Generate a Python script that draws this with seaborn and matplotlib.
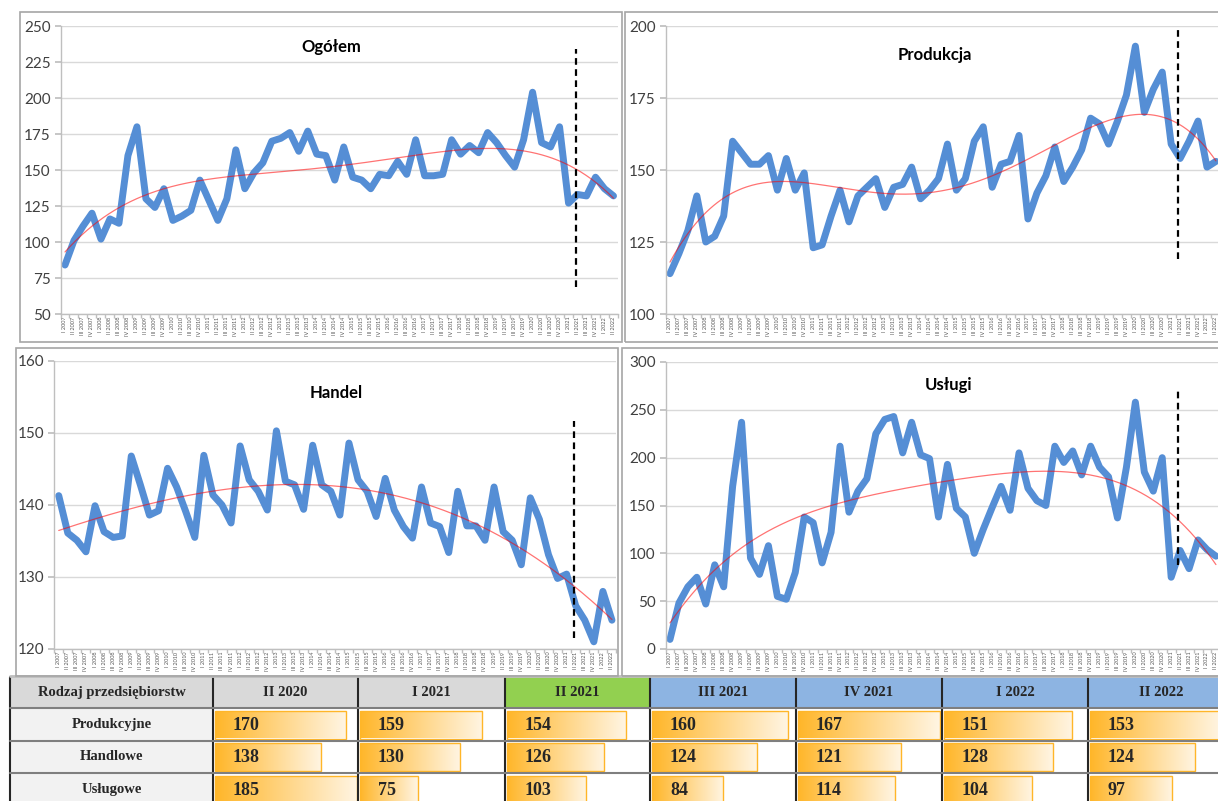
import numpy as np
import matplotlib
matplotlib.use('Agg')
import matplotlib.pyplot as plt
import seaborn as sns
from matplotlib.patches import Rectangle
from matplotlib.colors import LinearSegmentedColormap

# Dane kwartalne: I 2007 - II 2022
kwartaly = ['I', 'II', 'III', 'IV']
lata = list(range(2007, 2023))
etykiety = [f'{q} {r}' for r in lata for q in kwartaly][:62]

ogolem = [84, 101, 111, 120, 102, 116, 113, 160, 180, 130, 124, 137, 115, 118, 122, 143,
          129, 115, 130, 164, 137, 148, 155, 170, 172, 176, 163, 177, 161, 160, 143, 166,
          145, 143, 137, 147, 146, 156, 147, 171, 146, 146, 147, 171, 161, 167, 162, 176,
          169, 160, 152, 171, 204, 169, 166, 180, 127, 133, 132, 145, 137, 132]
produkcja = [114, 121, 129, 141, 125, 127, 134, 160, 156, 152, 152, 155, 143, 154, 143, 149,
             123, 124, 134, 143, 132, 141, 144, 147, 137, 144, 145, 151, 140, 143, 147, 159,
             143, 147, 160, 165, 144, 152, 153, 162, 133, 142, 148, 158, 146, 151, 157, 168,
             166, 159, 167, 176, 193, 170, 178, 184, 159, 154, 160, 167, 151, 153]
handel = [141.3, 136.1, 135.1, 133.5, 139.9, 136.3, 135.5, 135.7, 146.8, 142.8, 138.6, 139.2,
          145.1, 142.5, 139.1, 135.5, 146.9, 141.4, 140.0, 137.5, 148.2, 143.5, 141.9, 139.3,
          150.3, 143.3, 142.8, 139.4, 148.3, 142.8, 141.9, 138.6, 148.6, 143.5, 141.9, 138.4,
          143.7, 139.3, 137.0, 135.4, 142.5, 137.5, 137.0, 133.4, 141.9, 137.1, 137.1, 135.1,
          142.5, 136.3, 135.1, 131.7, 141.0, 138.0, 133.1, 129.8, 130.4, 126.0, 124.0, 121.0,
          128.0, 124.0]
uslugi = [10, 48, 65, 75, 47, 88, 65, 170, 237, 95, 78, 108, 55, 52, 80, 138,
          132, 90, 122, 212, 143, 165, 178, 225, 240, 243, 205, 237, 203, 199, 138, 193,
          147, 138, 100, 125, 148, 170, 145, 205, 168, 155, 150, 212, 195, 207, 182, 212,
          190, 180, 137, 190, 258, 185, 165, 200, 75, 103, 84, 114, 104, 97]

# Tabela
tab_kolumny = ['II 2020', 'I 2021', 'II 2021', 'III 2021', 'IV 2021', 'I 2022', 'II 2022']
tab_wiersze = ['Produkcyjne', 'Handlowe', 'Usługowe']
tab_prod = [170, 159, 154, 160, 167, 151, 153]
tab_hand = [138, 130, 126, 124, 121, 128, 124]
tab_usl = [185, 75, 103, 84, 114, 104, 97]

sns.set_theme(style='white')
plt.rcParams['font.family'] = ['Lato', 'DejaVu Sans']

W, H = 1218, 801
fig = plt.figure(figsize=(W / 100, H / 100), dpi=100)


def box(x0, y0, x1, y1):
    return [x0 / W, 1 - y1 / H, (x1 - x0) / W, (y1 - y0) / H]


def ramka(x0, y0, x1, y1):
    fig.add_artist(Rectangle((x0 / W, 1 - y1 / H), (x1 - x0) / W, (y1 - y0) / H,
                             transform=fig.transFigure, fill=False, ec='#a6a6a6', lw=1.2))


def wykres(pos, dane, tytul, tpos, yticks, stopien, kreska):
    ax = fig.add_axes(box(*pos))
    x = np.arange(len(dane))
    sns.lineplot(x=x, y=dane, ax=ax, color='#558ed5', linewidth=5,
                 solid_joinstyle='round', solid_capstyle='round')
    # linia trendu (wielomianowa)
    xf = np.linspace(0, len(dane) - 1, 300)
    wsp = np.polyfit(x / 61, dane, stopien)
    sns.lineplot(x=xf, y=np.polyval(wsp, xf / 61), ax=ax, color='#ff0000', alpha=0.55, linewidth=0.9)
    ax.vlines(56.8, kreska[0], kreska[1], colors='black', linestyles=(0, (3, 2)), linewidth=1.6)
    ax.set_xlim(-0.5, 61.5)
    ax.set_ylim(yticks[0], yticks[-1])
    ax.set_yticks(yticks)
    ax.set_xticks(x)
    ax.set_xticklabels(etykiety, rotation=90, fontsize=4, color='#595959')
    ax.set_xticks(np.arange(-0.5, 62, 1), minor=True)
    ax.tick_params(axis='x', which='major', length=0, pad=2)
    ax.tick_params(axis='x', which='minor', length=3, color='#bfbfbf', bottom=True)
    ax.tick_params(axis='y', length=4, color='#bfbfbf', labelsize=11, labelcolor='#404040',
                   left=True, pad=3)
    ax.grid(axis='y', color='#d9d9d9', linewidth=1)
    ax.set_axisbelow(True)
    for s in ['top', 'right']:
        ax.spines[s].set_visible(False)
    for s in ['left', 'bottom']:
        ax.spines[s].set_color('#bfbfbf')
        ax.spines[s].set_linewidth(1)
    ax.text(tpos[0], tpos[1], tytul, transform=ax.transAxes, ha='center', va='center',
            fontsize=12, fontweight='bold', color='black')
    ax.set_xlabel('')
    ax.set_ylabel('')
    return ax


ramka(20, 12, 622, 342)
ramka(625, 12, 1230, 342)
ramka(16, 348, 618, 676)
ramka(622, 348, 1230, 676)

wykres((60.5, 26, 618, 314), ogolem, 'Ogółem', (0.486, 0.928), [50, 75, 100, 125, 150, 175, 200, 225, 250], 4, (69, 234))
wykres((665.5, 26, 1220.4, 314), produkcja, 'Produkcja', (0.486, 0.90), [100, 125, 150, 175, 200], 4, (119, 200))
wykres((54.2, 361, 616.5, 649), handel, 'Handel', (0.502, 0.89), [120, 130, 140, 150, 160], 3, (121.5, 151.7))
wykres((665.5, 362, 1220.4, 649), uslugi, 'Usługi', (0.51, 0.92), [0, 50, 100, 150, 200, 250, 300], 4, (88, 271))

# --- tabela ---
axt = fig.add_axes([0, 0, 1, 126 / H])
kol = [10, 213, 358, 505, 650, 796, 942, 1088, 1234]
wier = [2, 33, 66, 98, 131]
naglowek_tlo = ['#d9d9d9', '#d9d9d9', '#d9d9d9', '#92d050', '#8db4e2', '#8db4e2', '#8db4e2', '#8db4e2']
serif = ['Liberation Serif', 'DejaVu Serif']

for j in range(8):
    axt.add_patch(Rectangle((kol[j], wier[0]), kol[j + 1] - kol[j], wier[1] - wier[0],
                            fc=naglowek_tlo[j], ec='none', zorder=0))
for i in range(3):
    axt.add_patch(Rectangle((kol[0], wier[i + 1]), kol[1] - kol[0], wier[i + 2] - wier[i + 1],
                            fc='#f2f2f2', ec='none', zorder=0))

axt.text((kol[0] + kol[1]) / 2, (wier[0] + wier[1]) / 2, 'Rodzaj przedsiębiorstw', ha='center',
         va='center', fontsize=10.5, fontweight='bold', family=serif)
for j, k in enumerate(tab_kolumny):
    axt.text((kol[j + 1] + kol[j + 2]) / 2, (wier[0] + wier[1]) / 2, k, ha='center', va='center',
             fontsize=10.5, fontweight='bold', family=serif)
for i, w in enumerate(tab_wiersze):
    axt.text((kol[0] + kol[1]) / 2, (wier[i + 1] + wier[i + 2]) / 2, w, ha='center', va='center',
             fontsize=10.5, fontweight='bold', family=serif)

cmap = LinearSegmentedColormap.from_list('pasek', ['#ffb629', '#fff5e3'])
grad = np.linspace(0, 1, 256).reshape(1, -1)
skala = [0.77, 0.77, 0.77, 0.85, 0.85, 0.85, 0.85]
for i, wartosci in enumerate([tab_prod, tab_hand, tab_usl]):
    yc = (wier[i + 1] + wier[i + 2]) / 2
    for j, v in enumerate(wartosci):
        x0 = kol[j + 1] + 2
        bars = axt.barh([yc], [v * skala[j]], left=x0, height=28, color='none',
                        edgecolor='#ffb629', linewidth=1, zorder=3)
        p = bars.patches[0]
        im = axt.imshow(grad, cmap=cmap, extent=[x0, x0 + v * skala[j], yc + 14, yc - 14],
                        aspect='auto', zorder=2)
        im.set_clip_path(p)
        axt.text(x0 + 18, yc + 1, str(v), ha='left', va='center', fontsize=13,
                 fontweight='bold', family=serif, zorder=4)

for x in kol[:-1]:
    axt.plot([x, x], [wier[0], wier[-1]], color='#262626', lw=1.5, zorder=5)
for y in wier[1:-1]:
    axt.plot([kol[0], kol[-1]], [y, y], color='#7f7f7f', lw=1.5, zorder=5)
axt.plot([kol[0], kol[-1]], [1, 1], color='#bfbfbf', lw=2, zorder=5)

axt.set_xlim(0, W)
axt.set_ylim(126, 0)
axt.axis('off')

fig.savefig('out.png', dpi=100)
